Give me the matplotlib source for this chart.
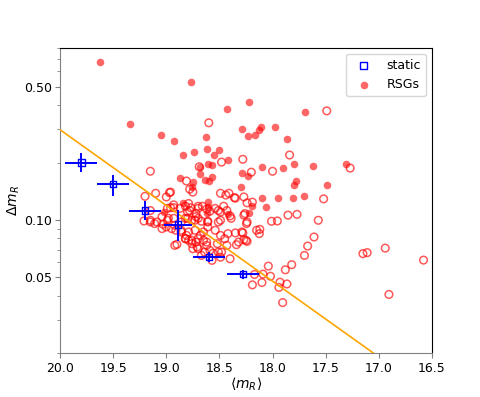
import numpy as np
import matplotlib
matplotlib.use("Agg")
import matplotlib.pyplot as plt
from matplotlib.ticker import FixedLocator, FormatStrFormatter, NullFormatter

# RSGs, variable (filled) -- <m_R>, Delta m_R
rsg_fill_m = [19.62, 18.77, 19.34, 19.05, 18.93, 18.43, 18.63, 18.84, 18.74, 18.62,
              18.55, 18.50, 18.68, 18.61, 18.57, 18.42, 18.68, 18.87, 18.64, 18.57,
              18.76, 18.225, 17.695, 18.29, 18.23, 18.17, 18.13, 18.11, 17.98, 17.86,
              18.10, 17.90, 17.80, 17.62, 17.31, 18.23, 18.29, 18.30, 17.78, 17.80,
              17.49, 17.70, 17.81, 17.95, 18.10, 18.19, 18.22, 18.75, 18.84, 19.02,
              18.06, 18.605, 18.605, 18.42, 18.62, 18.60]
rsg_fill_d = [0.67, 0.53, 0.318, 0.280, 0.259, 0.381, 0.273, 0.220, 0.227, 0.236,
              0.220, 0.232, 0.189, 0.196, 0.193, 0.206, 0.174, 0.165, 0.162, 0.168,
              0.148, 0.415, 0.366, 0.299, 0.276, 0.279, 0.297, 0.306, 0.306, 0.267,
              0.190, 0.187, 0.196, 0.192, 0.196, 0.169, 0.177, 0.149, 0.160, 0.152,
              0.152, 0.134, 0.131, 0.131, 0.131, 0.118, 0.109, 0.158, 0.123, 0.110,
              0.117, 0.124, 0.117, 0.108, 0.109, 0.160]

# RSGs, open symbols
rsg_open_m = [19.15, 18.60, 18.48, 18.81, 19.20, 19.10, 19.00, 18.96, 18.49, 18.41, 18.35,
              17.49, 17.84, 18.28, 18.00, 17.27, 18.20, 17.52, 18.27,
              18.24, 18.19, 18.27, 18.245, 18.29, 18.27, 18.24, 18.15, 18.12, 18.125,
              18.01, 17.955, 17.855, 17.77, 17.57, 17.61, 17.67, 17.70, 17.82, 17.88,
              18.04, 18.09, 18.02, 18.17, 18.19, 18.10, 17.93, 17.865, 17.94, 17.905,
              17.15, 17.11, 16.94, 16.905, 16.58,
              18.69, 18.97, 18.78, 18.75, 18.79, 18.93, 18.96, 18.77, 18.80, 19.15,
              19.21, 19.15, 19.09, 19.04, 18.99, 18.93, 18.86, 18.80, 18.73, 18.72,
              18.44, 18.36, 18.70, 18.66, 18.51, 18.46, 18.43, 18.40, 18.59, 18.26,
              18.72, 18.67, 18.61, 18.49, 18.39, 18.24,
              18.42, 18.35, 18.28, 18.25, 18.34, 18.32, 18.61, 18.54, 18.49, 18.45,
              18.43, 18.52, 18.68, 18.65, 18.62, 18.70, 18.64, 18.67, 18.49, 18.40,
              18.48, 18.56, 18.57,
              19.15, 19.11, 19.04, 19.00, 18.95, 18.91, 18.90, 18.92, 18.86, 18.81,
              18.79, 18.76, 18.75, 18.72, 18.82, 19.03,
              18.99, 18.93, 18.87, 18.82, 18.78, 18.70, 18.62, 18.54, 18.49, 18.98,
              18.82, 18.76, 18.70, 18.61, 18.51, 18.86, 18.79, 18.73, 18.65, 18.82,
              18.76, 18.70, 18.62, 18.71, 18.59, 18.51, 18.92]
rsg_open_d = [0.180, 0.323, 0.201, 0.160, 0.133, 0.138, 0.132, 0.140, 0.138, 0.138, 0.130,
              0.373, 0.219, 0.208, 0.180, 0.187, 0.178, 0.129, 0.132,
              0.123, 0.124, 0.106, 0.0957, 0.0865, 0.0789, 0.0772, 0.0883, 0.0893, 0.0848,
              0.0984, 0.0988, 0.106, 0.107, 0.0996, 0.0814, 0.0730, 0.0652, 0.0583, 0.0548,
              0.0573, 0.0520, 0.0507, 0.0518, 0.0457, 0.0470, 0.0472, 0.0462, 0.0443, 0.0369,
              0.0666, 0.0674, 0.0712, 0.0407, 0.0616,
              0.190, 0.139, 0.145, 0.140, 0.122, 0.120, 0.116, 0.116, 0.110, 0.112,
              0.0988, 0.0996, 0.0976, 0.104, 0.0996, 0.102, 0.0976, 0.102, 0.0996, 0.108,
              0.135, 0.131, 0.118, 0.118, 0.112, 0.118, 0.112, 0.105, 0.111, 0.108,
              0.104, 0.0985, 0.0976, 0.0996, 0.102, 0.0976,
              0.0848, 0.0855, 0.0855, 0.0782, 0.0742, 0.0766, 0.0919, 0.0883, 0.0830, 0.0798,
              0.0736, 0.0751, 0.0830, 0.0782, 0.0736, 0.0707, 0.0679, 0.0652, 0.0638, 0.0626,
              0.0679, 0.0670, 0.0614,
              0.0976, 0.0957, 0.0901, 0.0919, 0.0901, 0.0883, 0.0745, 0.0736, 0.0865, 0.0830,
              0.0782, 0.0751, 0.0707, 0.0766, 0.0798, 0.0949,
              0.115, 0.116, 0.115, 0.118, 0.112, 0.115, 0.114, 0.115, 0.110, 0.102,
              0.102, 0.0996, 0.102, 0.0985, 0.0976, 0.0883, 0.0865, 0.0883, 0.0865, 0.0798,
              0.0782, 0.0798, 0.0766, 0.0721, 0.0693, 0.0679, 0.0938]

# static stars (binned)
static_m = [19.80, 19.50, 19.20, 18.89, 18.60, 18.28]
static_d = [0.200, 0.154, 0.112, 0.0945, 0.064, 0.052]
static_merr = [0.15, 0.15, 0.15, 0.13, 0.15, 0.15]
static_derr_lo = [0.021, 0.020, 0.012, 0.017, 0.004, 0.003]
static_derr_hi = [0.024, 0.018, 0.013, 0.018, 0.004, 0.003]

# cut line: log10(dm) = a + b * m
line_a = -8.467
line_b = 0.397

fig, ax = plt.subplots(figsize=(4.8, 3.97), dpi=100)
fig.subplots_adjust(left=0.125, right=0.9, bottom=0.11, top=0.88)

ax.scatter(rsg_open_m, rsg_open_d, s=30, facecolors='none', edgecolors='red',
           linewidths=1.1, alpha=0.65, zorder=2)
ax.scatter(rsg_fill_m, rsg_fill_d, s=30, color='red', alpha=0.6, linewidths=0,
           label='RSGs', zorder=2)

mm = np.linspace(16.5, 20.0, 50)
ax.plot(mm, 10 ** (line_a + line_b * mm), color='orange', lw=1.2, zorder=3)

ax.errorbar(static_m, static_d, xerr=static_merr,
            yerr=[static_derr_lo, static_derr_hi], fmt='none', ecolor='blue',
            elinewidth=1.4, capsize=0, zorder=4)
ax.scatter(static_m, static_d, marker='s', s=22, facecolors='none',
           edgecolors='blue', linewidths=1.0, label='static', zorder=5)

ax.set_yscale('log')
ax.set_xlim(20.0, 16.5)
ax.set_ylim(0.02, 0.8)
ax.yaxis.set_major_locator(FixedLocator([0.05, 0.1, 0.5]))
ax.yaxis.set_major_formatter(FormatStrFormatter('%.2f'))
ax.yaxis.set_minor_formatter(NullFormatter())
ax.set_xticks([20.0, 19.5, 19.0, 18.5, 18.0, 17.5, 17.0, 16.5])
ax.xaxis.set_major_formatter(FormatStrFormatter('%.1f'))
ax.tick_params(labelsize=9, pad=2.5)

for side in ['left', 'bottom']:
    ax.spines[side].set_color('gray')
ax.tick_params(axis='both', which='both', color='gray')

ax.set_xlabel(r'$\langle m_R \rangle$', fontsize=10, labelpad=1)
ax.set_ylabel(r'$\Delta m_R$', fontsize=10, labelpad=1)

h, l = ax.get_legend_handles_labels()
ax.legend(h[::-1], l[::-1], loc='upper right', fontsize=9)

fig.savefig('out.png', dpi=100)
